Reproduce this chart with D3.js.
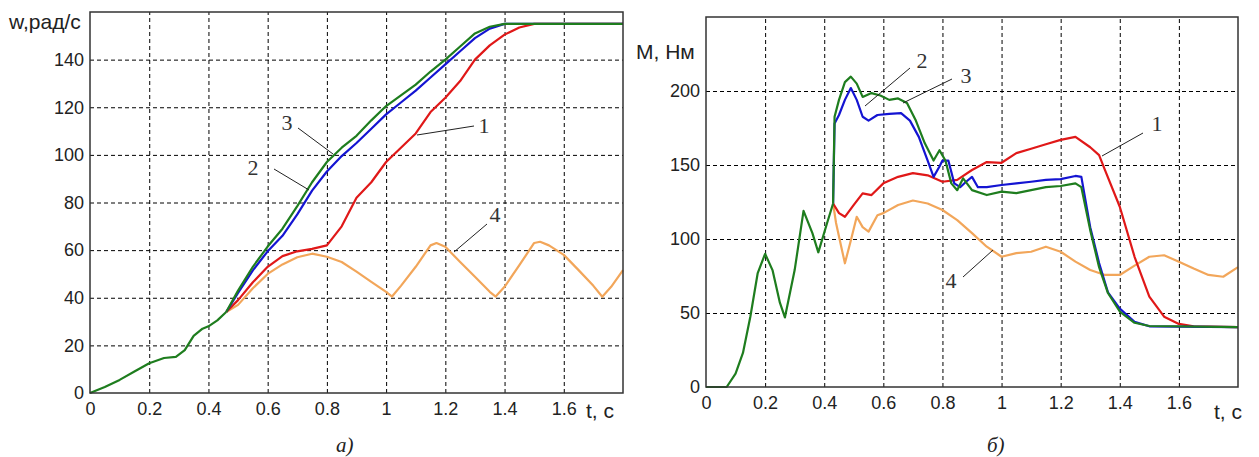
<!DOCTYPE html>
<html>
<head>
<meta charset="utf-8">
<script src="https://cdn.jsdelivr.net/npm/d3@7/dist/d3.min.js"></script>
<style>
  html, body { margin: 0; padding: 0; background: #fff; }
  svg { display: block; }
  .tick text { font-family: Arial, "Liberation Sans", sans-serif; font-size: 18px; fill: #222; }
  .grid line { stroke: #000; stroke-width: 1; stroke-dasharray: 4 3; }
  .grid path { display: none; }
  .lbl { font-family: Arial, "Liberation Sans", sans-serif; font-size: 21px; fill: #222; }
  .num { font-family: "Liberation Serif", "Times New Roman", serif; font-size: 22px; fill: #333; }
  .cap { font-family: "Liberation Serif", "Times New Roman", serif; font-size: 21px; font-style: italic; fill: #222; }
</style>
</head>
<body>
<script>
// ---- panel a) speed w, rad/s ----
const speedTicksX = [0, 0.2, 0.4, 0.6, 0.8, 1, 1.2, 1.4, 1.6];
const speedTicksY = [0, 20, 40, 60, 80, 100, 120, 140];

// common start (all curves coincide)
const speedCommon = [[0,0],[0.05,2.5],[0.1,5.5],[0.15,9],[0.2,12.5],[0.25,14.7],[0.29,15.2],[0.32,18],[0.35,24],[0.38,27],[0.4,28],[0.43,30.5],[0.46,34]];
// 1 - red
const speed1 = [[0.46,34],[0.5,39],[0.55,46.5],[0.6,53],[0.65,57.5],[0.7,59.5],[0.75,60.5],[0.8,62],[0.85,70],[0.9,82],[0.95,88.5],[1,97],[1.05,103],[1.1,109],[1.15,118],[1.2,124],[1.25,131],[1.3,140],[1.35,146],[1.4,150.5],[1.45,153.5],[1.5,155],[1.8,155]];
// 2 - blue
const speed2 = [[0.46,34],[0.5,42],[0.55,51.5],[0.6,59.5],[0.65,66],[0.7,75],[0.75,85],[0.8,93],[0.85,99.5],[0.9,105],[0.95,111],[1,117],[1.05,122],[1.1,127],[1.15,132.5],[1.2,138],[1.25,143.5],[1.3,149],[1.35,153],[1.4,155],[1.8,155]];
// 3 - green
const speed3 = [[0.46,34],[0.5,43],[0.55,53],[0.6,61.5],[0.65,69],[0.7,78.5],[0.75,88.5],[0.8,97],[0.85,103],[0.9,108],[0.95,114.5],[1,120.5],[1.05,125],[1.1,129.5],[1.15,135],[1.2,140],[1.25,145.5],[1.3,151],[1.35,153.8],[1.4,155],[1.8,155]];
// 4 - orange
const speed4 = [[0.46,34],[0.5,37],[0.55,44],[0.6,50],[0.65,54],[0.7,57],[0.75,58.5],[0.8,57.2],[0.85,55],[0.9,51],[0.95,46.7],[1,42.5],[1.02,40.5],[1.05,45],[1.1,53],[1.15,62],[1.17,63],[1.2,61.4],[1.25,55],[1.3,48.8],[1.35,42.5],[1.37,40.5],[1.4,44.6],[1.45,53.7],[1.5,63],[1.52,63.5],[1.55,62],[1.6,58],[1.65,51.6],[1.7,45],[1.73,40.4],[1.76,44.6],[1.8,51.6]];

// ---- panel б) torque M, Nm ----
const torqueTicksX = [0, 0.2, 0.4, 0.6, 0.8, 1, 1.2, 1.4, 1.6];
const torqueTicksY = [0, 50, 100, 150, 200];

const torqueCommon = [[0,0],[0.07,0],[0.1,9],[0.125,23],[0.15,47.5],[0.175,77],[0.2,90],[0.225,79],[0.25,57],[0.267,47],[0.3,79],[0.33,119],[0.36,104],[0.38,91],[0.41,111],[0.43,124]];
const torque1 = [[0.43,124],[0.45,117.5],[0.47,115],[0.5,123],[0.53,130.8],[0.56,129.7],[0.6,137.6],[0.65,142],[0.7,144.5],[0.75,143],[0.8,138.7],[0.85,140],[0.9,146.6],[0.95,152],[1,151.5],[1.05,158],[1.1,161],[1.15,164],[1.2,167],[1.25,169],[1.3,162],[1.33,156.7],[1.35,146.6],[1.4,121.8],[1.45,88],[1.5,61],[1.55,47.5],[1.6,42.6],[1.65,41],[1.8,40.5]];
const torque2 = [[0.43,124],[0.435,178],[0.45,183.8],[0.47,194],[0.49,202],[0.51,194],[0.53,182.6],[0.55,180],[0.58,183.8],[0.62,184.5],[0.66,185],[0.69,180],[0.72,169],[0.75,153],[0.77,142],[0.79,149],[0.8,153],[0.82,153],[0.84,137.6],[0.86,135],[0.88,138.7],[0.9,142],[0.92,135],[0.95,135],[1,136.5],[1.05,137.6],[1.1,138.7],[1.15,140],[1.2,140.5],[1.25,142.6],[1.27,142],[1.3,108],[1.33,83.8],[1.36,64],[1.4,53],[1.45,44],[1.5,41],[1.8,40.5]];
const torque3 = [[0.43,124],[0.435,182.6],[0.45,194],[0.47,206],[0.49,209.7],[0.51,205],[0.53,196],[0.56,198.6],[0.59,197],[0.62,194],[0.65,195],[0.68,191.9],[0.71,180],[0.74,164.8],[0.77,153],[0.79,160],[0.81,153],[0.83,137.6],[0.85,133],[0.87,141],[0.9,133],[0.95,129.7],[1,132],[1.05,131],[1.1,133],[1.15,135],[1.2,135.8],[1.25,137.6],[1.27,135],[1.3,106],[1.33,81],[1.36,63.5],[1.4,51],[1.45,43.4],[1.5,41.2],[1.8,40.5]];
const torque4 = [[0.43,124],[0.44,110.8],[0.46,92.6],[0.47,83.6],[0.49,99],[0.51,115],[0.53,108],[0.55,105],[0.58,116],[0.6,117.5],[0.65,123],[0.7,126],[0.75,124],[0.8,119.6],[0.85,112.8],[0.9,104],[0.95,94.8],[1,88],[1.05,90.5],[1.1,91.4],[1.15,94.8],[1.2,91.4],[1.25,84.7],[1.3,79],[1.35,75.7],[1.4,75.7],[1.45,82],[1.5,88],[1.55,89],[1.6,84.7],[1.65,80],[1.7,75.7],[1.75,74.5],[1.8,81]];

const COL = { 1: '#e01818', 2: '#1414d2', 3: '#1e7d1e', 4: '#f2a65a' };

const W = 1259, H = 457;
const svg = d3.select('body').append('svg').attr('width', W).attr('height', H);

function panel(o) {
  const x = d3.scaleLinear().domain([0, 1.8]).range([o.x0, o.x1]);
  const y = d3.scaleLinear().domain([0, o.yMax]).range([o.y1, o.y0]);
  const g = svg.append('g');

  // grid
  g.append('g').attr('class', 'grid').attr('transform', `translate(0,${o.y1})`)
    .call(d3.axisBottom(x).tickValues(o.tx.filter(d => d > 0)).tickSize(-(o.y1 - o.y0)).tickFormat(''));
  g.append('g').attr('class', 'grid').attr('transform', `translate(${o.x0},0)`)
    .call(d3.axisLeft(y).tickValues(o.ty.filter(d => d > 0)).tickSize(-(o.x1 - o.x0)).tickFormat(''));

  // tick labels
  const ax = g.append('g').attr('transform', `translate(0,${o.y1})`)
    .call(d3.axisBottom(x).tickValues(o.tx).tickSize(0).tickPadding(9).tickFormat(d => String(+d.toFixed(1))));
  ax.select('.domain').remove();
  const ay = g.append('g').attr('transform', `translate(${o.x0},0)`)
    .call(d3.axisLeft(y).tickValues(o.ty).tickSize(0).tickPadding(6));
  ay.select('.domain').remove();

  // curves
  const line = d3.line().x(d => x(d[0])).y(d => y(d[1]));
  [[o.s[3], 4], [o.s[0], 1], [o.s[1], 2], [o.s[2], 3], [o.common, 3]].forEach(([data, k]) => {
    g.append('path').datum(data).attr('d', line)
      .attr('fill', 'none').attr('stroke', COL[k]).attr('stroke-width', 2.2)
      .attr('stroke-linejoin', 'round');
  });

  // frame
  g.append('rect').attr('x', o.x0).attr('y', o.y0)
    .attr('width', o.x1 - o.x0).attr('height', o.y1 - o.y0)
    .attr('fill', 'none').attr('stroke', '#333').attr('stroke-width', 1.5);

  // leader labels
  o.notes.forEach(n => {
    g.append('line').attr('x1', n.l[0]).attr('y1', n.l[1]).attr('x2', n.l[2]).attr('y2', n.l[3])
      .attr('stroke', '#222').attr('stroke-width', 1);
    g.append('text').attr('class', 'num').attr('x', n.p[0]).attr('y', n.p[1])
      .attr('text-anchor', 'middle').attr('dy', '0.35em').text(n.t);
  });

  g.append('text').attr('class', 'lbl').attr('x', o.yl[0]).attr('y', o.yl[1]).text(o.ylabel);
  g.append('text').attr('class', 'lbl').attr('x', o.tl[0]).attr('y', o.tl[1]).text('t, c');
  g.append('text').attr('class', 'cap').attr('x', o.cp[0]).attr('y', o.cp[1]).text(o.cap);
}

panel({
  x0: 90, x1: 623, y0: 12, y1: 393, yMax: 160,
  tx: speedTicksX, ty: speedTicksY,
  common: speedCommon, s: [speed1, speed2, speed3, speed4],
  ylabel: 'w,рад/с', yl: [9, 29], tl: [586, 418], cap: 'а)', cp: [336, 452],
  notes: [
    { t: '3', p: [287, 122], l: [298, 128, 333, 154] },
    { t: '2', p: [253, 167], l: [274, 169, 309, 190] },
    { t: '1', p: [484, 125], l: [474, 126, 417, 135] },
    { t: '4', p: [495, 214], l: [487, 224, 454, 252] },
  ],
});

panel({
  x0: 706, x1: 1238, y0: 17, y1: 387, yMax: 250,
  tx: torqueTicksX, ty: torqueTicksY,
  common: torqueCommon, s: [torque1, torque2, torque3, torque4],
  ylabel: 'M, Нм', yl: [636, 59], tl: [1214, 419], cap: 'б)', cp: [987, 452],
  notes: [
    { t: '2', p: [922, 60], l: [910, 68, 865, 106] },
    { t: '3', p: [966, 75], l: [952, 79, 903, 103] },
    { t: '1', p: [1157, 123], l: [1143, 133, 1102, 156] },
    { t: '4', p: [951, 280], l: [963, 277, 993, 250] },
  ],
});
</script>
</body>
</html>
